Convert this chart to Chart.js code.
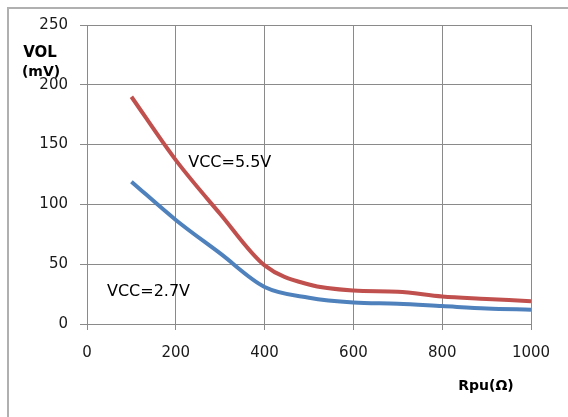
<!DOCTYPE html>
<html>
<head>
<meta charset="utf-8">
<script src="https://cdn.jsdelivr.net/npm/chart.js@4/dist/chart.umd.min.js"></script>
<style>
html,body{margin:0;padding:0;background:#fff;}
#wrap{width:568px;height:417px;position:relative;}
</style>
</head>
<body>
<div id="wrap"><canvas id="c" width="568" height="417"></canvas></div>
<script>
const rpu = [100, 200, 300, 400, 500, 600, 700, 800, 900, 1000];
const vcc55 = [190, 137, 92, 49, 33, 28, 27, 23, 21, 19];
const vcc27 = [119, 87, 59, 31, 22, 18, 17, 15, 13, 12];
const xTicks = [0, 200, 400, 600, 800, 1000];
const yTicks = [0, 50, 100, 150, 200, 250];
const seriesNames = ['VCC=5.5V', 'VCC=2.7V'];
const yTitle = ['VOL', '(mV)'];
const xTitle = 'Rpu(Ω)';

const FONT = '"DejaVu Sans", Verdana, sans-serif';

const overlay = {
  id: 'overlay',
  beforeDraw(chart) {
    const ctx = chart.ctx;
    ctx.save();
    ctx.fillStyle = '#fff';
    ctx.fillRect(0, 0, chart.width, chart.height);
    ctx.strokeStyle = '#b0b0b0';
    ctx.lineWidth = 2;
    ctx.strokeRect(8, 8, 700, 700);
    ctx.restore();
  },
  afterDraw(chart) {
    const ctx = chart.ctx;
    const xs = chart.scales.x, ys = chart.scales.y;
    ctx.save();
    ctx.fillStyle = '#000';
    ctx.textBaseline = 'middle';
    ctx.textAlign = 'center';
    ctx.font = 'bold 15px ' + FONT;
    ctx.fillText(yTitle[0], 40, 53);
    ctx.font = 'bold 14px ' + FONT;
    ctx.fillText(yTitle[1], 41, 72);
    ctx.font = 'bold 14px ' + FONT;
    ctx.fillText(xTitle, 486, 386);
    ctx.font = '16px ' + FONT;
    ctx.textAlign = 'left';
    ctx.fillText(seriesNames[0], xs.getPixelForValue(228), ys.getPixelForValue(135));
    ctx.fillText(seriesNames[1], xs.getPixelForValue(45), ys.getPixelForValue(27));
    ctx.restore();
  }
};

new Chart(document.getElementById('c'), {
  type: 'line',
  data: {
    datasets: [
      {
        label: seriesNames[0],
        data: rpu.map((x, i) => ({x, y: vcc55[i]})),
        borderColor: '#C0504D',
        borderWidth: 4,
        pointRadius: 0,
        cubicInterpolationMode: 'monotone',
        fill: false
      },
      {
        label: seriesNames[1],
        data: rpu.map((x, i) => ({x, y: vcc27[i]})),
        borderColor: '#4F81BD',
        borderWidth: 4,
        pointRadius: 0,
        cubicInterpolationMode: 'monotone',
        fill: false
      }
    ]
  },
  options: {
    responsive: false,
    animation: false,
    devicePixelRatio: 1,
    layout: { padding: { top: 25, right: 37, left: 0, bottom: 0 } },
    plugins: { legend: { display: false }, tooltip: { enabled: false } },
    scales: {
      x: {
        type: 'linear',
        min: xTicks[0], max: xTicks[xTicks.length - 1],
        afterFit(s) { s.height = 93; },
        afterBuildTicks(s) { s.ticks = xTicks.map(v => ({value: v})); },
        ticks: { color: '#1a1a1a', font: { family: FONT, size: 15 }, padding: 14, maxRotation: 0,
                 callback: v => String(v) },
        grid: { color: '#8a8a8a', lineWidth: 1, tickLength: 6, drawTicks: true },
        border: { color: '#8a8a8a', width: 1 }
      },
      y: {
        min: yTicks[0], max: yTicks[yTicks.length - 1],
        afterFit(s) { s.width = 87; },
        afterBuildTicks(s) { s.ticks = yTicks.map(v => ({value: v})); },
        ticks: { color: '#1a1a1a', font: { family: FONT, size: 15 }, padding: 12,
                 callback: v => String(v) },
        grid: { color: '#8a8a8a', lineWidth: 1, tickLength: 7, drawTicks: true },
        border: { color: '#8a8a8a', width: 1 }
      }
    }
  },
  plugins: [overlay]
});
</script>
</body>
</html>
